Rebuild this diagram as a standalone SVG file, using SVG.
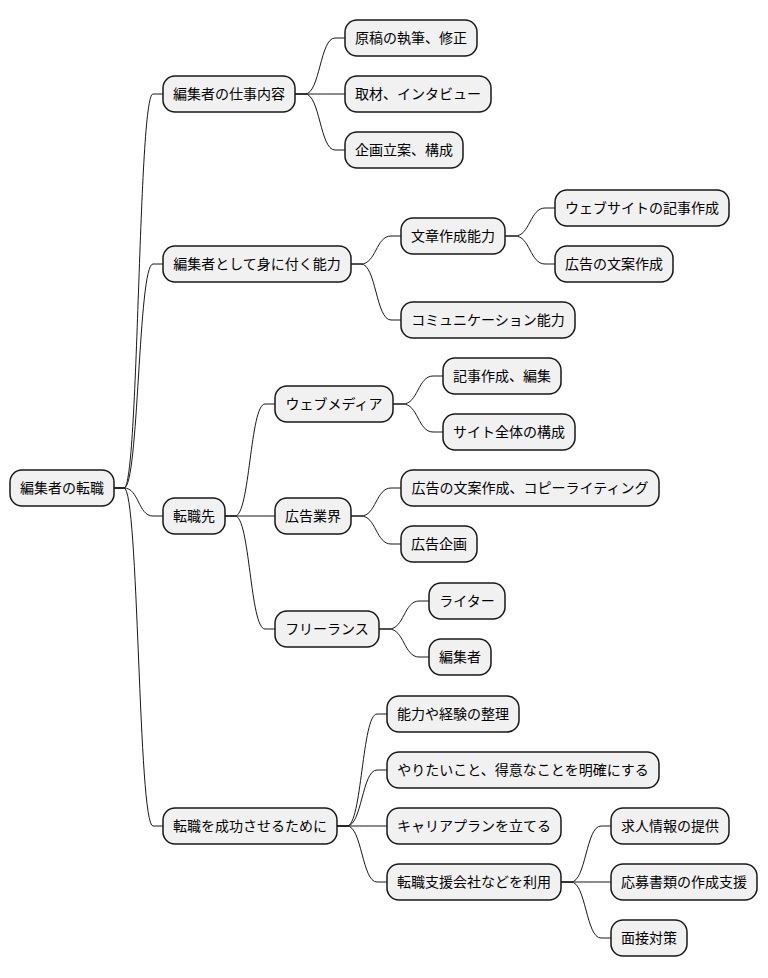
<svg xmlns="http://www.w3.org/2000/svg" width="768" height="978" viewBox="0 0 768 978">
<style>
.n rect{fill:#F1F1F1;stroke:#181818;stroke-width:1.5}
.n text{font-family:"Noto Sans CJK JP","Noto Sans",sans-serif;font-size:14px;fill:#000;text-anchor:middle}
#links path{fill:none;stroke:#181818;stroke-width:1}
</style>
<rect width="768" height="978" fill="#FFFFFF"/>
<g id="links">
<!-- root -> L1 -->
<path d="M114,488 L124,488 C139,488 138,94 153,94 L163,94"/>
<path d="M114,488 L124,488 C139,488 138,264 153,264 L163,264"/>
<path d="M114,488 L124,488 C139,488 138,516 153,516 L163,516"/>
<path d="M114,488 L124,488 C139,488 138,826 153,826 L163,826"/>
<!-- A -->
<path d="M295,94 L305,94 C320,94 320,38 335,38 L345,38"/>
<path d="M295,94 L305,94 C320,94 320,94 335,94 L345,94"/>
<path d="M295,94 L305,94 C320,94 320,150 335,150 L345,150"/>
<!-- B -->
<path d="M351,264 L361,264 C376,264 376,236 391,236 L401,236"/>
<path d="M351,264 L361,264 C376,264 376,320 391,320 L401,320"/>
<path d="M505,236 L515,236 C530,236 530,208 545,208 L555,208"/>
<path d="M505,236 L515,236 C530,236 530,264 545,264 L555,264"/>
<!-- C -->
<path d="M225,516 L235,516 C250,516 250,404 265,404 L275,404"/>
<path d="M225,516 L235,516 C250,516 250,516 265,516 L275,516"/>
<path d="M225,516 L235,516 C250,516 250,629 265,629 L275,629"/>
<path d="M393,404 L403,404 C418,404 418,376 433,376 L443,376"/>
<path d="M393,404 L403,404 C418,404 418,432 433,432 L443,432"/>
<path d="M351,516 L361,516 C376,516 376,488 391,488 L401,488"/>
<path d="M351,516 L361,516 C376,516 376,544 391,544 L401,544"/>
<path d="M379,629 L389,629 C404,629 404,601 419,601 L429,601"/>
<path d="M379,629 L389,629 C404,629 404,657 419,657 L429,657"/>
<!-- D -->
<path d="M337,826 L347,826 C362,826 362,714 377,714 L387,714"/>
<path d="M337,826 L347,826 C362,826 362,770 377,770 L387,770"/>
<path d="M337,826 L347,826 C362,826 362,826 377,826 L387,826"/>
<path d="M337,826 L347,826 C362,826 362,882 377,882 L387,882"/>
<path d="M561,882 L571,882 C586,882 586,826 601,826 L611,826"/>
<path d="M561,882 L571,882 C586,882 586,882 601,882 L611,882"/>
<path d="M561,882 L571,882 C586,882 586,938 601,938 L611,938"/>
</g>
<g id="root" class="n"><rect x="10" y="470" width="104" height="36" rx="12"/><text x="62" y="493">編集者の転職</text></g>
<g id="a" class="n"><rect x="163" y="76" width="132" height="36" rx="12"/><text x="229" y="99">編集者の仕事内容</text></g>
<g id="a1" class="n"><rect x="345" y="20" width="132" height="36" rx="12"/><text x="411" y="43">原稿の執筆、修正</text></g>
<g id="a2" class="n"><rect x="345" y="76" width="146" height="36" rx="12"/><text x="418" y="99">取材、インタビュー</text></g>
<g id="a3" class="n"><rect x="345" y="132" width="118" height="36" rx="12"/><text x="404" y="155">企画立案、構成</text></g>
<g id="b" class="n"><rect x="163" y="246" width="188" height="36" rx="12"/><text x="257" y="269">編集者として身に付く能力</text></g>
<g id="b1" class="n"><rect x="401" y="218" width="104" height="36" rx="12"/><text x="453" y="241">文章作成能力</text></g>
<g id="b1a" class="n"><rect x="555" y="190" width="174" height="36" rx="12"/><text x="642" y="213">ウェブサイトの記事作成</text></g>
<g id="b1b" class="n"><rect x="555" y="246" width="118" height="36" rx="12"/><text x="614" y="269">広告の文案作成</text></g>
<g id="b2" class="n"><rect x="401" y="302" width="174" height="36" rx="12"/><text x="488" y="325">コミュニケーション能力</text></g>
<g id="c" class="n"><rect x="163" y="498" width="62" height="36" rx="12"/><text x="194" y="521">転職先</text></g>
<g id="c1" class="n"><rect x="275" y="386" width="118" height="36" rx="12"/><text x="334" y="409">ウェブメディア</text></g>
<g id="c1a" class="n"><rect x="443" y="358" width="118" height="36" rx="12"/><text x="502" y="381">記事作成、編集</text></g>
<g id="c1b" class="n"><rect x="443" y="414" width="132" height="36" rx="12"/><text x="509" y="437">サイト全体の構成</text></g>
<g id="c2" class="n"><rect x="275" y="498" width="76" height="36" rx="12"/><text x="313" y="521">広告業界</text></g>
<g id="c2a" class="n"><rect x="401" y="470" width="258" height="36" rx="12"/><text x="530" y="493">広告の文案作成、コピーライティング</text></g>
<g id="c2b" class="n"><rect x="401" y="526" width="76" height="36" rx="12"/><text x="439" y="549">広告企画</text></g>
<g id="c3" class="n"><rect x="275" y="611" width="104" height="36" rx="12"/><text x="327" y="634">フリーランス</text></g>
<g id="c3a" class="n"><rect x="429" y="583" width="76" height="36" rx="12"/><text x="467" y="606">ライター</text></g>
<g id="c3b" class="n"><rect x="429" y="639" width="62" height="36" rx="12"/><text x="460" y="662">編集者</text></g>
<g id="d" class="n"><rect x="163" y="808" width="174" height="36" rx="12"/><text x="250" y="831">転職を成功させるために</text></g>
<g id="d1" class="n"><rect x="387" y="696" width="132" height="36" rx="12"/><text x="453" y="719">能力や経験の整理</text></g>
<g id="d2" class="n"><rect x="387" y="752" width="272" height="36" rx="12"/><text x="523" y="775">やりたいこと、得意なことを明確にする</text></g>
<g id="d3" class="n"><rect x="387" y="808" width="174" height="36" rx="12"/><text x="474" y="831">キャリアプランを立てる</text></g>
<g id="d4" class="n"><rect x="387" y="864" width="174" height="36" rx="12"/><text x="474" y="887">転職支援会社などを利用</text></g>
<g id="d4a" class="n"><rect x="611" y="808" width="118" height="36" rx="12"/><text x="670" y="831">求人情報の提供</text></g>
<g id="d4b" class="n"><rect x="611" y="864" width="146" height="36" rx="12"/><text x="684" y="887">応募書類の作成支援</text></g>
<g id="d4c" class="n"><rect x="611" y="920" width="76" height="36" rx="12"/><text x="649" y="943">面接対策</text></g>
</svg>
